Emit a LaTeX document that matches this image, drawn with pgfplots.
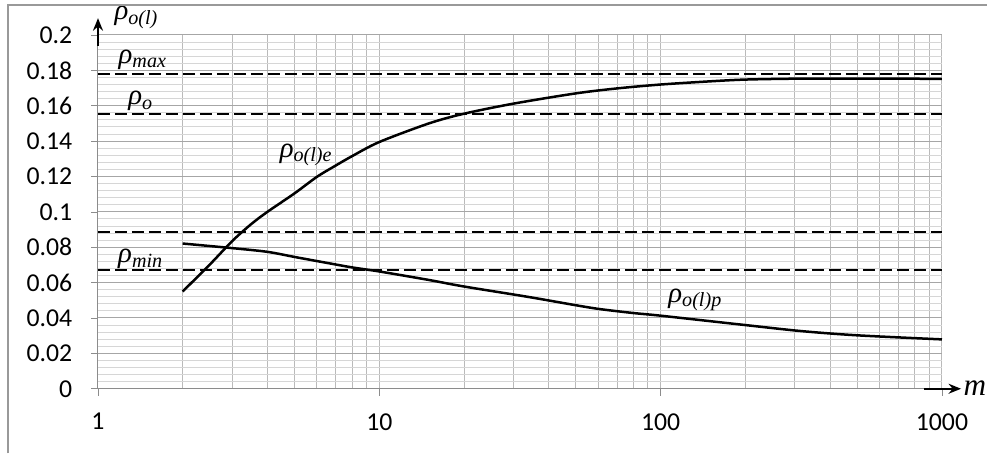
\documentclass[border=0pt]{standalone}
\usepackage{fontspec}
\setmainfont{Carlito}
\newfontfamily\tms{Liberation Serif}
\usepackage{pgfplots}
\pgfplotsset{compat=1.18}
\usetikzlibrary{arrows.meta}
\newcommand\rh[1]{{\tms\itshape ρ\textsubscript{#1}}}

\begin{document}
\begin{tikzpicture}
\begin{axis}[
    scale only axis,
    width=337.6pt, height=141.5pt,
    xmode=log, xmin=1, xmax=1000,
    ymin=0, ymax=0.2,
    xtick={1,10,100,1000}, xticklabels={1,10,100,1000},
    ytick={0,0.02,0.04,0.06,0.08,0.1,0.12,0.14,0.16,0.18,0.2},
    yticklabels={0,0.02,0.04,0.06,0.08,0.1,0.12,0.14,0.16,0.18,0.2},
    minor y tick num=4,
    axis x line*=bottom, axis y line*=left,
    axis line style={black!45},
    tick align=outside, major tick length=2.8pt, minor tick length=0pt,
    tick style={black!45},
    grid=both,
    major y grid style={black!35}, minor y grid style={black!16},
    major x grid style={black!27}, minor x grid style={black!27},
    tick label style={font=\fontsize{10.3}{12}\selectfont},
    yticklabel style={xshift=-4pt},
    xticklabel style={yshift=-3.5pt},
    clip=false,
]
% limits
\addplot[black, line width=0.8pt, dash pattern=on 4.8pt off 2pt] coordinates {(1,0.1778) (1000,0.1778)};
\addplot[black, line width=0.8pt, dash pattern=on 4.8pt off 2pt] coordinates {(1,0.1554) (1000,0.1554)};
\addplot[black, line width=0.8pt, dash pattern=on 4.8pt off 2pt] coordinates {(1,0.0887) (1000,0.0887)};
\addplot[black, line width=0.8pt, dash pattern=on 4.8pt off 2pt] coordinates {(1,0.0671) (1000,0.0671)};
% rho_o(l)e
\addplot[black, line width=1pt, smooth] coordinates {
    (2,0.055) (2.5,0.0703) (3,0.0835) (3.5,0.0930) (4,0.1000) (5,0.1105)
    (6,0.1198) (7,0.1262) (8,0.1315) (10,0.1395) (15,0.1500) (20,0.1555)
    (30,0.1612) (50,0.1670) (70,0.1698) (100,0.1720) (150,0.1738)
    (200,0.1748) (300,0.1753) (500,0.1754) (1000,0.1752)
};
% rho_o(l)p
\addplot[black, line width=1pt, smooth] coordinates {
    (2,0.0821) (3,0.0795) (4,0.0774) (5,0.0745) (6.7,0.0708) (8,0.0686)
    (10,0.0663) (15,0.0615) (20,0.0578) (33.6,0.0520) (50,0.0472)
    (61,0.0450) (80,0.0428) (100,0.0413) (200,0.0360) (316,0.0326)
    (500,0.0302) (1000,0.0279)
};
\tikzset{lbl/.style={font=\fontsize{11.5}{13}\selectfont, inner sep=0pt, anchor=base}}
\node[lbl] at (axis cs:1.445,0.1840) {\rh{max}};
\node[lbl] at (axis cs:1.42,0.1607) {\rh{o}};
\node[lbl] at (axis cs:5.5,0.1308) {\rh{o(l)e}};
\node[lbl] at (axis cs:1.42,0.0712) {\rh{min}};
\node[lbl] at (axis cs:133,0.0488) {\rh{o(l)p}};
\draw[black, line width=0.7pt, -{Stealth[length=5pt,width=4pt]}] (axis cs:1,0.194) -- (axis cs:1,0.2095);
\node[lbl, anchor=base west] at (axis cs:1.14,0.2085) {\rh{o(l)}};
\draw[black, line width=0.7pt, -{Stealth[length=5pt,width=4pt]}] (axis cs:863,0) -- (axis cs:1169,0);
\node[lbl, anchor=west] at (axis cs:1190,0.0005) {\fontsize{12.5}{14}\selectfont\tms\itshape m};
\end{axis}
\draw[black!40, line width=0.5pt] (-36pt,-25.9pt) -- (-36pt,153.5pt) -- (355.6pt,153.5pt);
\pgfresetboundingbox
\path[use as bounding box] (-39.2pt,-25.9pt) rectangle (355.6pt,155.5pt);
\end{tikzpicture}
\end{document}
